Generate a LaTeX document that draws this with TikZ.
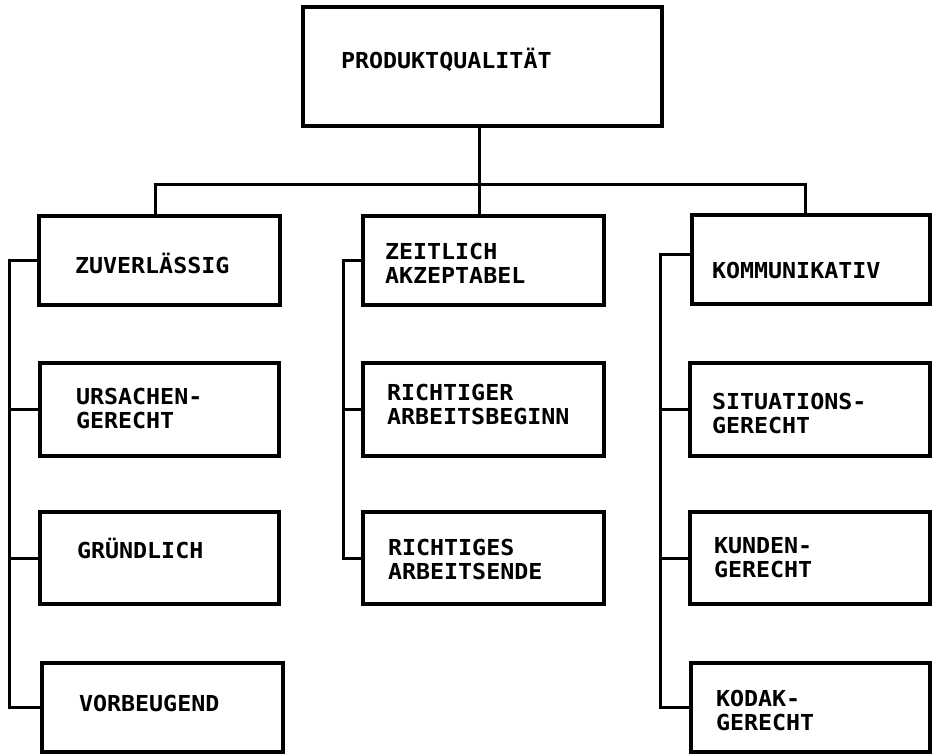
\documentclass[tikz,border=0pt]{standalone}
\usepackage{fontspec}
\newfontfamily\tw[FakeStretch=1.06]{DejaVu Sans Mono}
\begin{document}
\begin{tikzpicture}[x=1pt,y=-1pt]
\tikzset{
  box/.style={draw, line width=3.4pt, rectangle, inner sep=0pt, outer sep=0pt, anchor=north west},
  lbl/.style={font=\tw\bfseries\fontsize{22}{24}\selectfont, inner sep=0pt, outer sep=0pt, align=left},
  two/.style={lbl, anchor=north west},
  one/.style={lbl, anchor=base west},
  conn/.style={line width=3pt, line cap=rect},
}
\useasboundingbox (0,0) rectangle (934,755);
% boxes
\node[box, minimum width=359pt, minimum height=119pt] (top) at (303,7) {};
\node[box, minimum width=241pt, minimum height=89pt] (z1) at (39,216) {};
\node[box, minimum width=239pt, minimum height=93pt] (z2) at (40,363) {};
\node[box, minimum width=239pt, minimum height=92pt] (z3) at (40,512) {};
\node[box, minimum width=241pt, minimum height=89pt] (z4) at (42,663) {};
\node[box, minimum width=241pt, minimum height=89pt] (m1) at (363,216) {};
\node[box, minimum width=241pt, minimum height=93pt] (m2) at (363,363) {};
\node[box, minimum width=241pt, minimum height=92pt] (m3) at (363,512) {};
\node[box, minimum width=238pt, minimum height=89pt] (r1) at (692,215) {};
\node[box, minimum width=240pt, minimum height=93pt] (r2) at (690,363) {};
\node[box, minimum width=240pt, minimum height=92pt] (r3) at (690,512) {};
\node[box, minimum width=239pt, minimum height=89pt] (r4) at (691,663) {};
% texts
\node[one] (tt) at (341,68) {PRODUKTQUALITÄT};
\node[one] (t1) at (75,273) {ZUVERLÄSSIG};
\node[two] (t2) at (76,388) {URSACHEN-\\GERECHT};
\node[one] (t3) at (77,558) {GRÜNDLICH};
\node[one] (t4) at (79,711) {VORBEUGEND};
\node[two] (u1) at (385,243) {ZEITLICH\\AKZEPTABEL};
\node[two] (u2) at (387,384) {RICHTIGER\\ARBEITSBEGINN};
\node[two] (u3) at (388,539) {RICHTIGES\\ARBEITSENDE};
\node[one] (v1) at (712,278) {KOMMUNIKATIV};
\node[two] (v2) at (712,393) {SITUATIONS-\\GERECHT};
\node[two] (v3) at (714,537) {KUNDEN-\\GERECHT};
\node[two] (v4) at (716,690) {KODAK-\\GERECHT};
% connector helpers
\coordinate (tx) at (479,0);
\coordinate (lx) at (155,0);
\coordinate (rx) at (805,0);
\coordinate (bar) at (0,184);
\coordinate (lsp) at (9,0);
\coordinate (msp) at (343,0);
\coordinate (rsp) at (660,0);
% tree
\draw[conn] (top.south -| tx) -- (m1.north -| tx);
\draw[conn] (z1.north -| lx) |- (bar -| rx) -- (r1.north -| rx);
% left column
\draw[conn] (z1.west) -- (z1.west -| lsp) -- (z4.west -| lsp) -- (z4.west);
\draw[conn] (z2.west -| lsp) -- (z2.west);
\draw[conn] (z3.west -| lsp) -- (z3.west);
% middle column
\draw[conn] (m1.west) -- (m1.west -| msp) -- (m3.west -| msp) -- (m3.west);
\draw[conn] (m2.west -| msp) -- (m2.west);
% right column
\draw[conn] ([yshift=5pt]r1.west) -- ([yshift=5pt]r1.west -| rsp) -- (r4.west -| rsp) -- (r4.west);
\draw[conn] (r2.west -| rsp) -- (r2.west);
\draw[conn] (r3.west -| rsp) -- (r3.west);
\end{tikzpicture}
\end{document}
